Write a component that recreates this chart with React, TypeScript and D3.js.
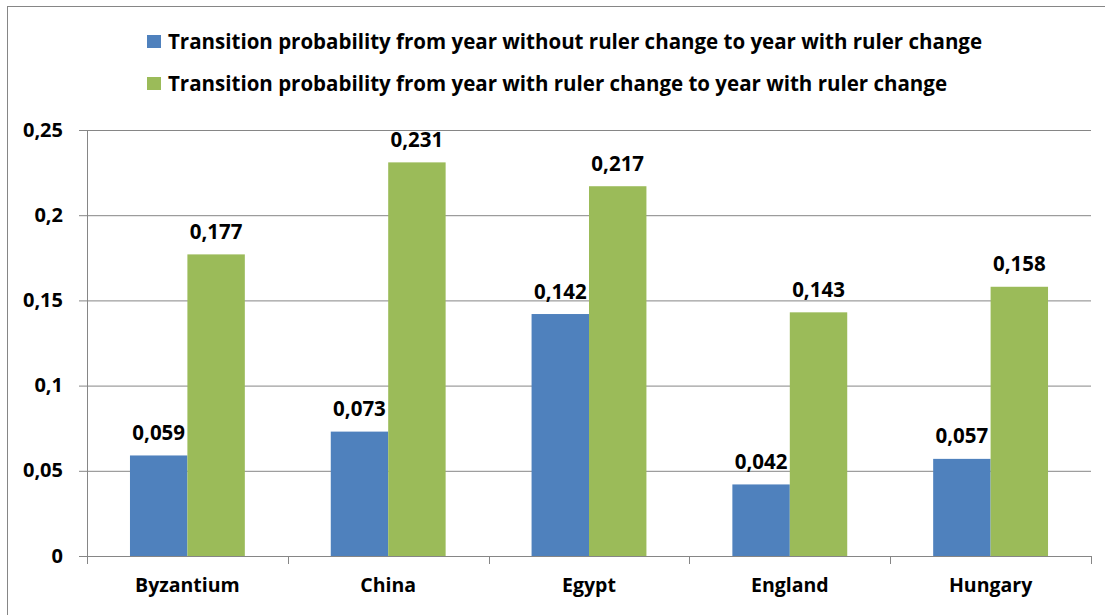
import * as d3 from "d3";

const countries = ["Byzantium", "China", "Egypt", "England", "Hungary"];
const withoutChange = [0.059, 0.073, 0.142, 0.042, 0.057];
const withChange = [0.177, 0.231, 0.217, 0.143, 0.158];
const seriesNames = [
  "Transition probability from year without ruler change to year with ruler change",
  "Transition probability from year with ruler change to year with ruler change",
];
const yTicks = [0, 0.05, 0.1, 0.15, 0.2, 0.25];
const colors = ["#4F81BD", "#9BBB59"];

const fmt = (v: number) => (v === 0 ? "0" : String(v).replace(".", ","));
const valFmt = (v: number) => v.toFixed(3).replace(".", ",");

function App() {
  const width = 1105;
  const height = 615;
  const left = 87;
  const right = 1091;
  const top = 130;
  const bottom = 556;
  const font = "'Open Sans', Lato, sans-serif";

  const x = d3.scaleBand<string>().domain(countries).range([left, right]).paddingInner(0).paddingOuter(0);
  const y = d3.scaleLinear().domain([0, 0.25]).range([bottom, top]);
  const barW = x.bandwidth() * 0.286;
  const gap = (x.bandwidth() - 2 * barW) / 2;

  const series = [withoutChange, withChange];

  return (
    <svg width={width} height={height} style={{ position: "absolute", left: 0, top: 0 }}>
      <rect x={0} y={0} width={width} height={height} fill="#fff" />
      <rect x={7.5} y={6.5} width={width + 20} height={height + 20} fill="none" stroke="#868686" strokeWidth={1} />

      {/* legend */}
      {seriesNames.map((name, i) => (
        <g key={name} transform={`translate(147, ${42 + i * 42})`}>
          <rect x={0} y={-7} width={14} height={13} fill={colors[i]} />
          <text x={21} y={7} fontFamily={font} fontWeight={700} fontSize={20.5} fill="#000">
            {name}
          </text>
        </g>
      ))}

      {/* gridlines and y ticks */}
      {yTicks.map((t) => (
        <g key={t}>
          <line x1={left - 8} x2={right} y1={y(t) + 0.5} y2={y(t) + 0.5} stroke="#868686" strokeWidth={1} />
          <text x={63} y={y(t) + 6.5} textAnchor="end" fontFamily={font} fontWeight={700} fontSize={20} fill="#000">
            {fmt(t)}
          </text>
        </g>
      ))}
      <line x1={left + 0.5} x2={left + 0.5} y1={top} y2={bottom + 8} stroke="#868686" />

      {/* category ticks, bars and labels */}
      {countries.map((c, i) => (
        <g key={c}>
          <line
            x1={Math.round((x(c) as number) + x.bandwidth()) + 0.5}
            x2={Math.round((x(c) as number) + x.bandwidth()) + 0.5}
            y1={bottom}
            y2={bottom + 8}
            stroke="#868686"
          />
          <text
            x={(x(c) as number) + x.bandwidth() / 2}
            y={592}
            textAnchor="middle"
            fontFamily={font}
            fontWeight={700}
            fontSize={19.5}
            fill="#000"
          >
            {c}
          </text>
          {series.map((s, j) => {
            const bx = (x(c) as number) + gap + j * barW;
            return (
              <g key={j}>
                <rect x={bx} y={y(s[i])} width={barW} height={bottom - y(s[i])} fill={colors[j]} />
                <text
                  x={bx + barW / 2}
                  y={y(s[i]) - 15.5}
                  textAnchor="middle"
                  fontFamily={font}
                  fontWeight={700}
                  fontSize={20.5}
                  fill="#000"
                >
                  {valFmt(s[i])}
                </text>
              </g>
            );
          })}
        </g>
      ))}
    </svg>
  );
}

export default App;
